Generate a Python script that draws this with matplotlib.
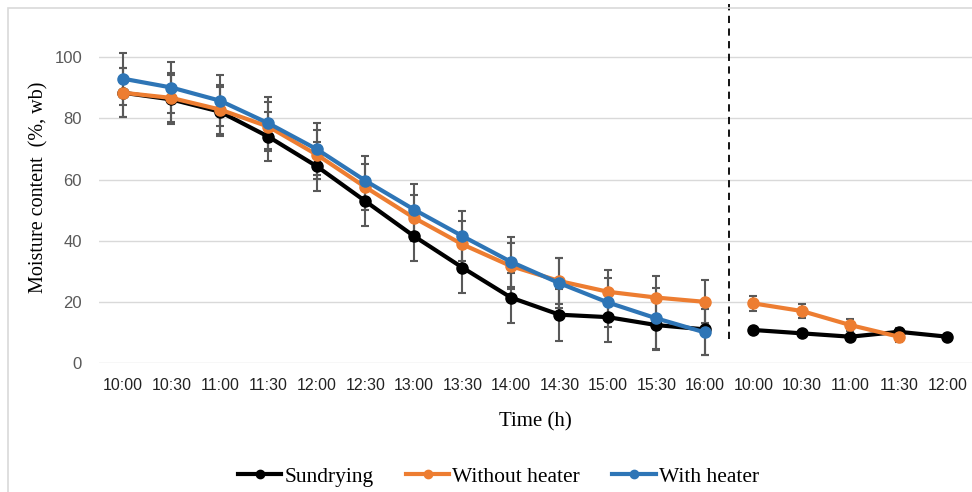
import numpy as np
import matplotlib
matplotlib.use("Agg")
import matplotlib.pyplot as plt
from matplotlib.lines import Line2D
from matplotlib.patches import Rectangle

# ==================== data ====================
time_labels = ["10:00", "10:30", "11:00", "11:30", "12:00", "12:30", "13:00",
               "13:30", "14:00", "14:30", "15:00", "15:30", "16:00",
               "10:00", "10:30", "11:00", "11:30", "12:00"]

# day 1 (indices 0..12)
sun_day1     = [88.4, 86.2, 82.2, 74.0, 64.3, 52.9, 41.5, 31.2, 21.4, 15.8, 15.0, 12.4, 11.0]
sun_day1_err = [8.0, 8.0, 8.0, 8.0, 8.0, 8.0, 8.2, 8.2, 8.2, 8.5, 8.2, 8.0, 8.5]
woh_day1     = [88.4, 86.7, 82.9, 77.3, 68.1, 57.5, 47.5, 38.8, 31.7, 26.8, 23.3, 21.4, 20.0]
woh_day1_err = [8.0, 8.0, 8.0, 8.0, 8.0, 7.5, 7.5, 7.5, 7.5, 7.5, 7.2, 7.2, 7.0]
wh_day1      = [93.0, 90.1, 85.8, 78.4, 69.9, 59.6, 50.2, 41.5, 33.1, 26.1, 19.8, 14.6, 10.0]
wh_day1_err  = [8.5, 8.3, 8.3, 8.5, 8.5, 8.0, 8.2, 8.2, 8.2, 8.2, 8.0, 10.0, 7.5]

# day 2 (indices 13..17)
sun_day2     = [10.8, 9.7, 8.6, 10.2, 8.6]
sun_day2_err = [0.8, 0.8, 0.8, 1.2, 0.8]
woh_day2     = [19.5, 17.0, 12.4, 8.6]
woh_day2_err = [2.5, 2.4, 2.0, 1.8]

BLACK  = "#000000"
ORANGE = "#ED7D31"
BLUE   = "#2E75B6"
ERRC   = "#595959"
GRID   = "#D9D9D9"
TICKF  = ["Liberation Sans", "DejaVu Sans"]

plt.rcParams["font.family"] = ["Liberation Serif", "DejaVu Serif"]

fig = plt.figure(figsize=(9.72, 4.92), dpi=100)
ax = fig.add_axes([0.1016, 0.2622, 0.898, 0.7146])

x1 = np.arange(len(sun_day1))
n1 = len(sun_day1)


def draw_series(x, y, err, color):
    ax.errorbar(x, y, yerr=err, fmt="none", ecolor=ERRC, elinewidth=1.5,
                capsize=3, capthick=1.5, zorder=3)
    ax.plot(x, y, color=color, lw=3, marker="o", ms=8, zorder=4)


draw_series(x1, sun_day1, sun_day1_err, BLACK)
draw_series(x1, woh_day1, woh_day1_err, ORANGE)
draw_series(x1, wh_day1, wh_day1_err, BLUE)
draw_series(n1 + np.arange(len(sun_day2)), sun_day2, sun_day2_err, BLACK)
draw_series(n1 + np.arange(len(woh_day2)), woh_day2, woh_day2_err, ORANGE)

# day separator
ax.vlines(n1 - 0.5, 8, 117.5, colors="#000000", linestyles=(0, (4, 3)),
          lw=1.3, clip_on=False, zorder=5)

ax.set_xlim(-0.5, len(time_labels) - 0.5)
ax.set_ylim(0, 115)
ax.set_yticks([0, 20, 40, 60, 80, 100])
ax.set_xticks(np.arange(len(time_labels)))
ax.set_xticklabels(time_labels, fontsize=11.5, family=TICKF, color="#222222")
for t in ax.get_yticklabels():
    t.set_family(TICKF)
ax.tick_params(axis="y", labelsize=12, labelcolor=ERRC, length=0, pad=12)
ax.tick_params(axis="x", length=0, pad=11)
ax.yaxis.grid(True, color=GRID, lw=1)
ax.set_axisbelow(True)
for s in ax.spines.values():
    s.set_visible(False)

ax.set_xlabel("Time (h)", fontsize=15, va="center")
ax.xaxis.set_label_coords(0.5, -0.168)
ax.set_ylabel("Moisture content  (%, wb)", fontsize=14.5, labelpad=4)

handles = [Line2D([], [], color=c, lw=3, marker="o", ms=6) for c in (BLACK, ORANGE, BLUE)]
fig.legend(handles, ["Sundrying", "Without heater", "With heater"],
           loc="center", bbox_to_anchor=(0.513, 0.031), ncol=3,
           frameon=False, fontsize=15.5, handlelength=2.0, columnspacing=1.5,
           handletextpad=0.15, borderpad=0)

# outer chart border
fig.patches.append(Rectangle((8 / 972, -0.1), 1.2, 1.1 - 8 / 492,
                             transform=fig.transFigure, fill=False,
                             edgecolor=GRID, lw=1.2))

fig.savefig("out.png", dpi=100)
